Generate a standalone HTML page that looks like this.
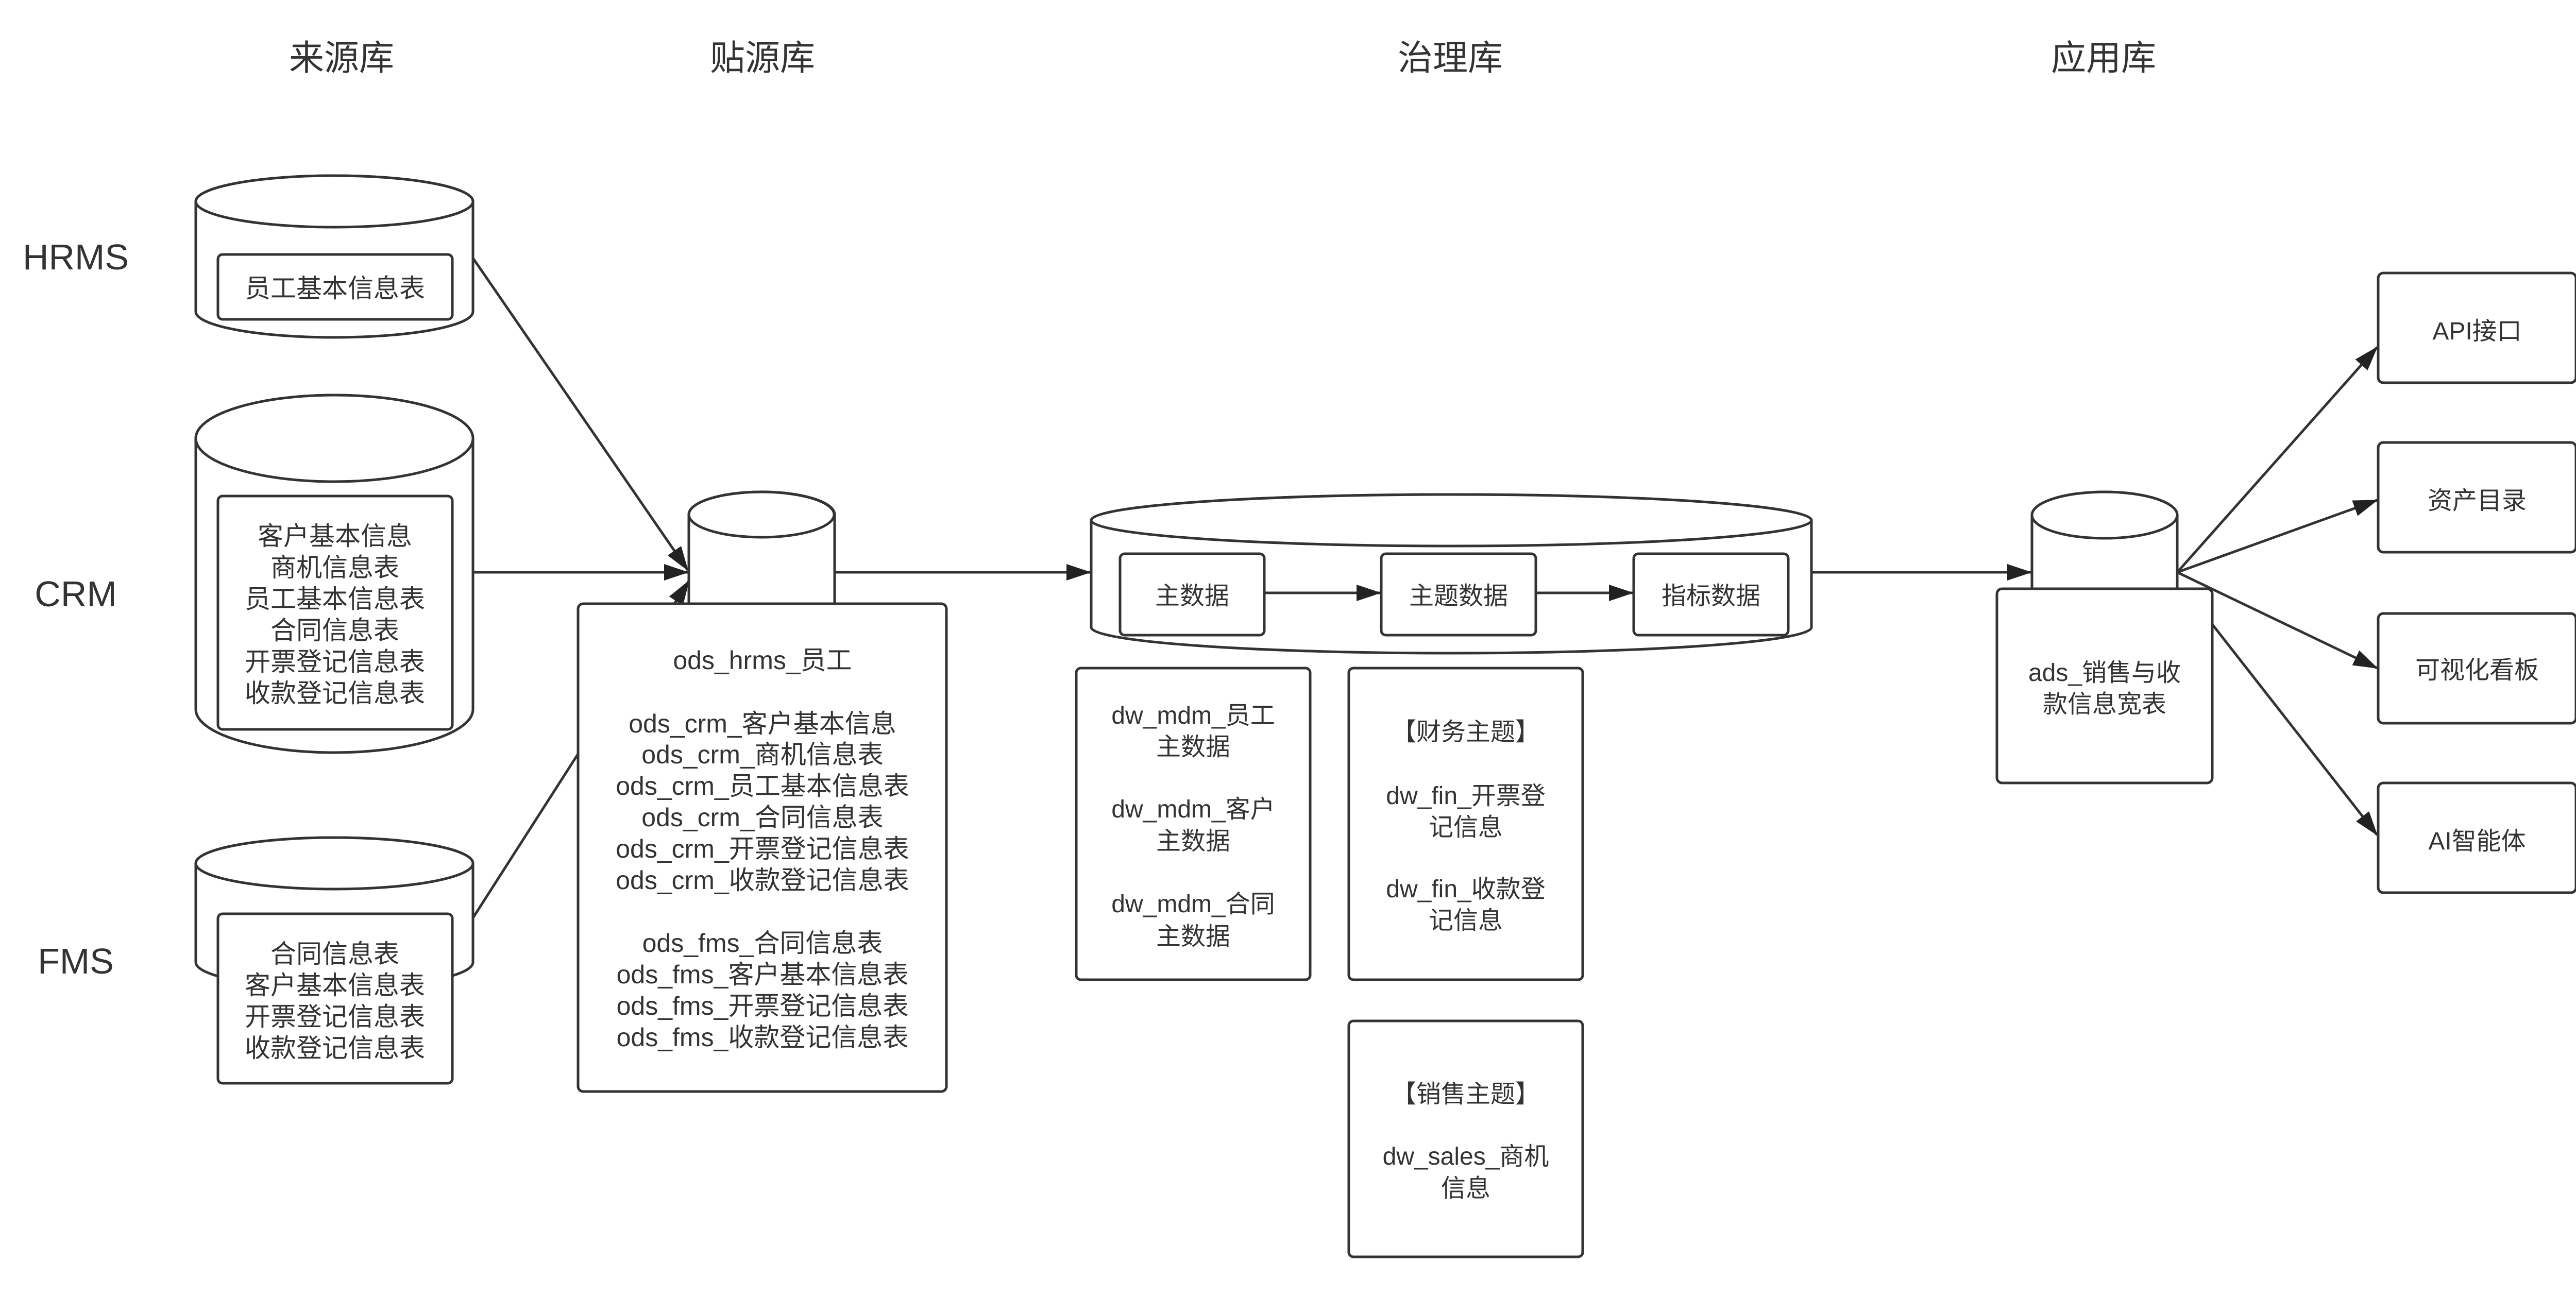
<!DOCTYPE html>
<html><head><meta charset="utf-8"><style>
html,body{margin:0;padding:0;background:#fff;}
svg{display:block;}
text{font-family:"Liberation Sans","Noto Sans CJK SC",sans-serif;fill:#333;}
</style></head><body>
<svg width="5096" height="2516" viewBox="0 0 5096 2516" xmlns="http://www.w3.org/2000/svg">
<defs>
<marker id="ah" markerWidth="10" markerHeight="8" refX="9.5" refY="4" orient="auto" markerUnits="userSpaceOnUse" viewBox="0 0 10 8">
</marker>
<marker id="a" viewBox="0 0 48 32" refX="46" refY="16" markerWidth="48" markerHeight="32" markerUnits="userSpaceOnUse" orient="auto">
<path d="M0,0 L48,16 L0,32 Z" fill="#222"/>
</marker>
</defs>
<g stroke="#333" stroke-width="5" fill="none">
<!-- connectors -->
<line x1="918" y1="501" x2="1335" y2="1107" marker-end="url(#a)"/>
<line x1="918" y1="1111" x2="1335" y2="1111" marker-end="url(#a)"/>
<line x1="918" y1="1782" x2="1337" y2="1128" marker-end="url(#a)"/>
<line x1="1620" y1="1111" x2="2116" y2="1111" marker-end="url(#a)"/>
<line x1="3516" y1="1111" x2="3942" y2="1111" marker-end="url(#a)"/>
<line x1="4226" y1="1111" x2="4614" y2="674" marker-end="url(#a)"/>
<line x1="4226" y1="1111" x2="4614" y2="971" marker-end="url(#a)"/>
<line x1="4226" y1="1111" x2="4614" y2="1297" marker-end="url(#a)"/>
<line x1="4294" y1="1212" x2="4614" y2="1621" marker-end="url(#a)"/>
</g>
<g stroke="#333" stroke-width="5" fill="#fff">
<!-- HRMS cylinder -->
<path d="M380,391 L380,605 A269,50 0 0 0 918,605 L918,391 A269,50 0 0 0 380,391 Z"/>
<ellipse cx="649" cy="391" rx="269" ry="50"/>
<rect x="423" y="494" width="455" height="126" rx="9"/>
<!-- CRM cylinder -->
<path d="M380,851 L380,1377 A269,84 0 0 0 918,1377 L918,851 A269,84 0 0 0 380,851 Z"/>
<ellipse cx="649" cy="851" rx="269" ry="84"/>
<rect x="423" y="963" width="455" height="453" rx="9"/>
<!-- FMS cylinder -->
<path d="M380,1676 L380,1868 A269,50 0 0 0 918,1868 L918,1676 A269,50 0 0 0 380,1676 Z"/>
<ellipse cx="649" cy="1676" rx="269" ry="50"/>
<rect x="423" y="1774" width="455" height="329" rx="9"/>
<!-- ODS -->
<path d="M1337,999 L1337,1180 L1620,1180 L1620,999 A141,44 0 0 0 1337,999 Z"/>
<ellipse cx="1478" cy="999" rx="141" ry="44"/>
<rect x="1122" y="1172" width="715" height="947" rx="10"/>
<!-- DW big cylinder -->
<path d="M2118,1010 L2118,1218 A699,50 0 0 0 3516,1218 L3516,1010 A699,50 0 0 0 2118,1010 Z"/>
<ellipse cx="2817" cy="1010" rx="699" ry="50"/>
<rect x="2174" y="1075" width="280" height="158" rx="9"/>
<rect x="2681" y="1075" width="300" height="158" rx="9"/>
<rect x="3171" y="1075" width="300" height="158" rx="9"/>
<rect x="2089" y="1297" width="454" height="605" rx="9"/>
<rect x="2618" y="1297" width="454" height="605" rx="9"/>
<rect x="2618" y="1982" width="454" height="458" rx="9"/>
<!-- ADS -->
<path d="M3944,1000 L3944,1150 L4226,1150 L4226,1000 A141,45 0 0 0 3944,1000 Z"/>
<ellipse cx="4085" cy="1000" rx="141" ry="45"/>
<rect x="3876" y="1143" width="418" height="377" rx="10"/>
<!-- right boxes -->
<rect x="4616" y="530" width="384" height="213" rx="10"/>
<rect x="4616" y="859" width="384" height="213" rx="10"/>
<rect x="4616" y="1191" width="384" height="213" rx="10"/>
<rect x="4616" y="1520" width="384" height="213" rx="10"/>
</g>
<g stroke="#333" stroke-width="5" fill="none">
<line x1="2454" y1="1151" x2="2679" y2="1151" marker-end="url(#a)"/>
<line x1="2981" y1="1151" x2="3169" y2="1151" marker-end="url(#a)"/>
</g>
<!-- titles -->
<g font-size="68" text-anchor="middle">
<text x="663" y="136">来源库</text>
<text x="1480" y="136">贴源库</text>
<text x="2815" y="136">治理库</text>
<text x="4083" y="136">应用库</text>
</g>
<g font-size="70" text-anchor="middle">
<text x="147" y="523">HRMS</text>
<text x="147" y="1177">CRM</text>
<text x="147" y="1890">FMS</text>
</g>
<g font-size="50" text-anchor="middle">
<text x="650" y="577">员工基本信息表</text>
<text x="650" y="1058">客户基本信息</text>
<text x="650" y="1119">商机信息表</text>
<text x="650" y="1180">员工基本信息表</text>
<text x="650" y="1241">合同信息表</text>
<text x="650" y="1302">开票登记信息表</text>
<text x="650" y="1363">收款登记信息表</text>
<text x="650" y="1869">合同信息表</text>
<text x="650" y="1930">客户基本信息表</text>
<text x="650" y="1991">开票登记信息表</text>
<text x="650" y="2052">收款登记信息表</text>
</g>
<g font-size="50" text-anchor="middle">
<text x="1480" y="1299">ods_hrms_员工</text>
<text x="1480" y="1422">ods_crm_客户基本信息</text>
<text x="1480" y="1482">ods_crm_商机信息表</text>
<text x="1480" y="1543">ods_crm_员工基本信息表</text>
<text x="1480" y="1604">ods_crm_合同信息表</text>
<text x="1480" y="1665">ods_crm_开票登记信息表</text>
<text x="1480" y="1726">ods_crm_收款登记信息表</text>
<text x="1480" y="1848">ods_fms_合同信息表</text>
<text x="1480" y="1909">ods_fms_客户基本信息表</text>
<text x="1480" y="1970">ods_fms_开票登记信息表</text>
<text x="1480" y="2031">ods_fms_收款登记信息表</text>
</g>
<g font-size="48" text-anchor="middle">
<text x="2314" y="1173">主数据</text>
<text x="2831" y="1173">主题数据</text>
<text x="3321" y="1173">指标数据</text>
<text x="2316" y="1405">dw_mdm_员工</text>
<text x="2316" y="1466">主数据</text>
<text x="2316" y="1587">dw_mdm_客户</text>
<text x="2316" y="1649">主数据</text>
<text x="2316" y="1771">dw_mdm_合同</text>
<text x="2316" y="1834">主数据</text>
<text x="2845" y="1437">【财务主题】</text>
<text x="2845" y="1561">dw_fin_开票登</text>
<text x="2845" y="1622">记信息</text>
<text x="2845" y="1742">dw_fin_收款登</text>
<text x="2845" y="1803">记信息</text>
<text x="2845" y="2140">【销售主题】</text>
<text x="2845" y="2261">dw_sales_商机</text>
<text x="2845" y="2323">信息</text>
<text x="4085" y="1322">ads_销售与收</text>
<text x="4085" y="1383">款信息宽表</text>
<text x="4808" y="659">API接口</text>
<text x="4808" y="988">资产目录</text>
<text x="4808" y="1317">可视化看板</text>
<text x="4808" y="1649">AI智能体</text>
</g>
</svg>
</body></html>
